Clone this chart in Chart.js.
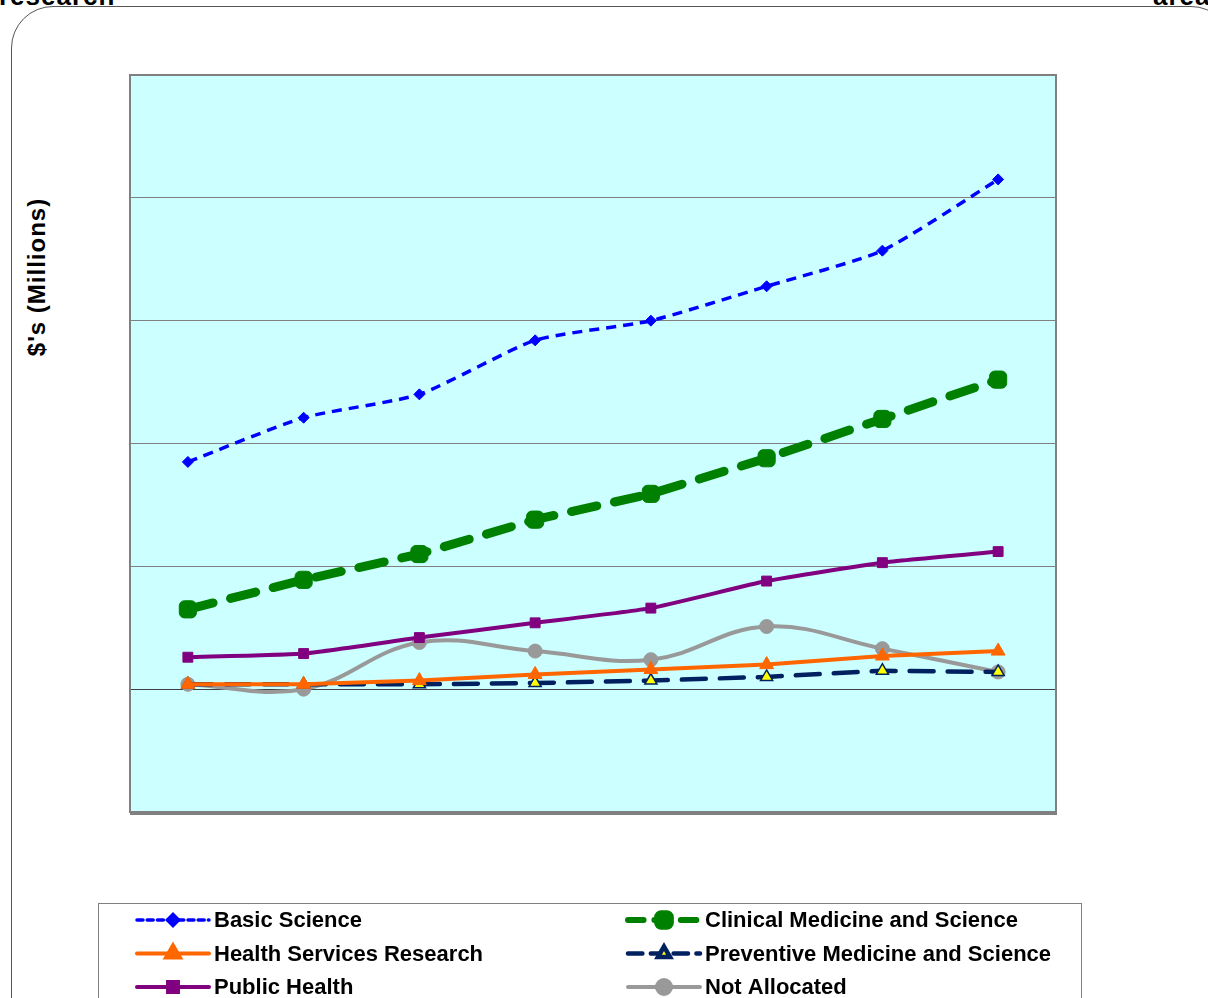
<!DOCTYPE html>
<html>
<head>
<meta charset="utf-8">
<script src="https://cdn.jsdelivr.net/npm/chart.js@4/dist/chart.umd.min.js"></script>
<style>
  body { margin: 0; background: #fff; font-family: "Liberation Sans", Arial, sans-serif; overflow: hidden; }
  #wrap { position: relative; width: 1208px; height: 998px; overflow: hidden; }
  #frame { position: absolute; left: 11px; top: 6px; width: 1220px; height: 1040px; border: 1.5px solid #555; border-radius: 42px; }
  .cut { position: absolute; top: -19px; font-weight: bold; font-size: 26px; color: #000; letter-spacing: 1px; }
  #ytitle { position: absolute; left: 37px; top: 277px; transform: translate(-50%, -50%) rotate(-90deg); font-weight: bold; font-size: 24px; letter-spacing: 1px; white-space: nowrap; }
  canvas { position: absolute; left: 0; top: 0; }
</style>
</head>
<body>
<div id="wrap">
  <div class="cut" style="left:-1px">research</div>
  <div class="cut" style="left:1153px">areas</div>
  <div id="frame"></div>
  <div id="ytitle">$'s (Millions)</div>
  <canvas id="funding" width="1208" height="998"></canvas>
</div>
<script>
// years are not printed on the chart, so the categories are placeholders
const years = ['1', '2', '3', '4', '5', '6', '7', '8'];
const basicScience = [185, 221, 240, 284, 300, 328, 357, 415];
const clinicalMedicine = [65, 89, 110, 138, 159, 188, 220, 252];
const healthServices = [4, 4, 7, 12, 16, 20, 27, 31];
const preventiveMedicine = [4, 4, 4, 5, 7, 10, 15, 14];
const publicHealth = [26, 29, 42, 54, 66, 88, 103, 112];
const notAllocated = [4, 0, 38, 31, 24, 51, 33, 14];

// cyan plot background + outer border of the plot area
const plotBox = {
    id: 'plotBox',
    beforeDraw(chart) {
        const a = chart.chartArea, ctx = chart.ctx;
        ctx.save();
        ctx.fillStyle = '#ccffff';
        ctx.fillRect(a.left, a.top, a.right - a.left, a.bottom - a.top);
        ctx.restore();
    },
    afterDraw(chart) {
        const a = chart.chartArea, ctx = chart.ctx;
        ctx.save();
        ctx.strokeStyle = '#808080';
        ctx.lineWidth = 2;
        ctx.strokeRect(a.left, a.top, a.right - a.left, a.bottom - a.top);
        ctx.beginPath();
        ctx.lineWidth = 3;
        ctx.moveTo(a.left, a.bottom + 1.5);
        ctx.lineTo(a.right + 1, a.bottom + 1.5);
        ctx.stroke();
        ctx.restore();
    }
};

// two column legend in a box under the chart
const boxLegend = {
    id: 'boxLegend',
    afterDraw(chart) {
        const ctx = chart.ctx;
        ctx.save();
        ctx.strokeStyle = '#808080';
        ctx.lineWidth = 1;
        ctx.strokeRect(98.5, 903.5, 983, 120);
        ctx.font = 'bold 22px "Liberation Sans", Arial, sans-serif';
        ctx.textBaseline = 'middle';
        chart.data.datasets.forEach(function (ds, i) {
            const col = i % 2, row = Math.floor(i / 2);
            const x0 = col ? 628 : 137, len = 72;
            const y = 920 + row * 33.5;
            ctx.save();
            ctx.strokeStyle = ds.borderColor;
            ctx.lineWidth = Math.min(ds.borderWidth, 6);
            ctx.lineCap = 'round';
            ctx.setLineDash(ds.borderDash ? ds.borderDash.map(d => d * 0.6) : []);
            ctx.beginPath();
            ctx.moveTo(x0, y);
            ctx.lineTo(x0 + len, y);
            ctx.stroke();
            ctx.setLineDash([]);
            ctx.fillStyle = ds.pointBackgroundColor;
            ctx.strokeStyle = ds.pointBorderColor;
            Chart.helpers.drawPoint(ctx, {
                pointStyle: ds.pointStyle,
                radius: Math.min(ds.pointRadius, 8),
                rotation: 0,
                borderWidth: ds.pointBorderWidth
            }, x0 + len / 2, y);
            ctx.restore();
            ctx.fillStyle = '#000';
            ctx.fillText(ds.label, x0 + len + 5, y + 1);
        });
        ctx.restore();
    }
};

new Chart(document.getElementById('funding'), {
    type: 'line',
    data: {
        labels: years,
        datasets: [{
            label: 'Basic Science',
            data: basicScience,
            borderColor: '#0000ff',
            borderWidth: 3.5,
            borderDash: [10, 7],
            pointStyle: 'rectRot',
            pointRadius: 5.5,
            pointBackgroundColor: '#0000ff',
            pointBorderColor: '#0000ff',
            pointBorderWidth: 1,
            tension: 0.2
        }, {
            label: 'Clinical Medicine and Science',
            data: clinicalMedicine,
            borderColor: '#008000',
            borderWidth: 9,
            borderDash: [26, 18],
            borderCapStyle: 'round',
            pointStyle: 'rectRounded',
            pointRadius: 10,
            pointBackgroundColor: '#008000',
            pointBorderColor: '#008000',
            pointBorderWidth: 1,
            tension: 0
        }, {
            label: 'Health Services Research',
            data: healthServices,
            borderColor: '#ff6600',
            borderWidth: 4,
            pointStyle: 'triangle',
            pointRadius: 8,
            pointBackgroundColor: '#ff6600',
            pointBorderColor: '#ff6600',
            pointBorderWidth: 1,
            tension: 0
        }, {
            label: 'Preventive Medicine and Science',
            data: preventiveMedicine,
            borderColor: '#002060',
            borderWidth: 4.5,
            borderDash: [24, 14],
            borderCapStyle: 'round',
            pointStyle: 'triangle',
            pointRadius: 7,
            pointBackgroundColor: '#ffff00',
            pointBorderColor: '#002060',
            pointBorderWidth: 1.5,
            tension: 0
        }, {
            label: 'Public Health',
            data: publicHealth,
            borderColor: '#800080',
            borderWidth: 4,
            pointStyle: 'rect',
            pointRadius: 7,
            pointBackgroundColor: '#800080',
            pointBorderColor: '#800080',
            pointBorderWidth: 1,
            tension: 0.15
        }, {
            label: 'Not Allocated',
            data: notAllocated,
            borderColor: '#999999',
            borderWidth: 4,
            pointStyle: 'circle',
            pointRadius: 7,
            pointBackgroundColor: '#999999',
            pointBorderColor: '#999999',
            pointBorderWidth: 1,
            tension: 0.4
        }]
    },
    options: {
        responsive: false,
        animation: false,
        layout: { padding: { left: 130, right: 152, top: 75, bottom: 178 } },
        plugins: {
            legend: { display: false },
            tooltip: { enabled: false }
        },
        scales: {
            x: {
                offset: true,
                ticks: { display: false },
                grid: { display: false },
                border: { display: false }
            },
            y: {
                min: -100,
                max: 500,
                ticks: { display: false, stepSize: 100 },
                grid: {
                    color: function (c) { return c.tick.value === 0 ? '#404040' : '#808080'; },
                    lineWidth: 1,
                    drawTicks: false
                },
                border: { display: false }
            }
        }
    },
    plugins: [plotBox, boxLegend]
});
</script>
</body>
</html>
